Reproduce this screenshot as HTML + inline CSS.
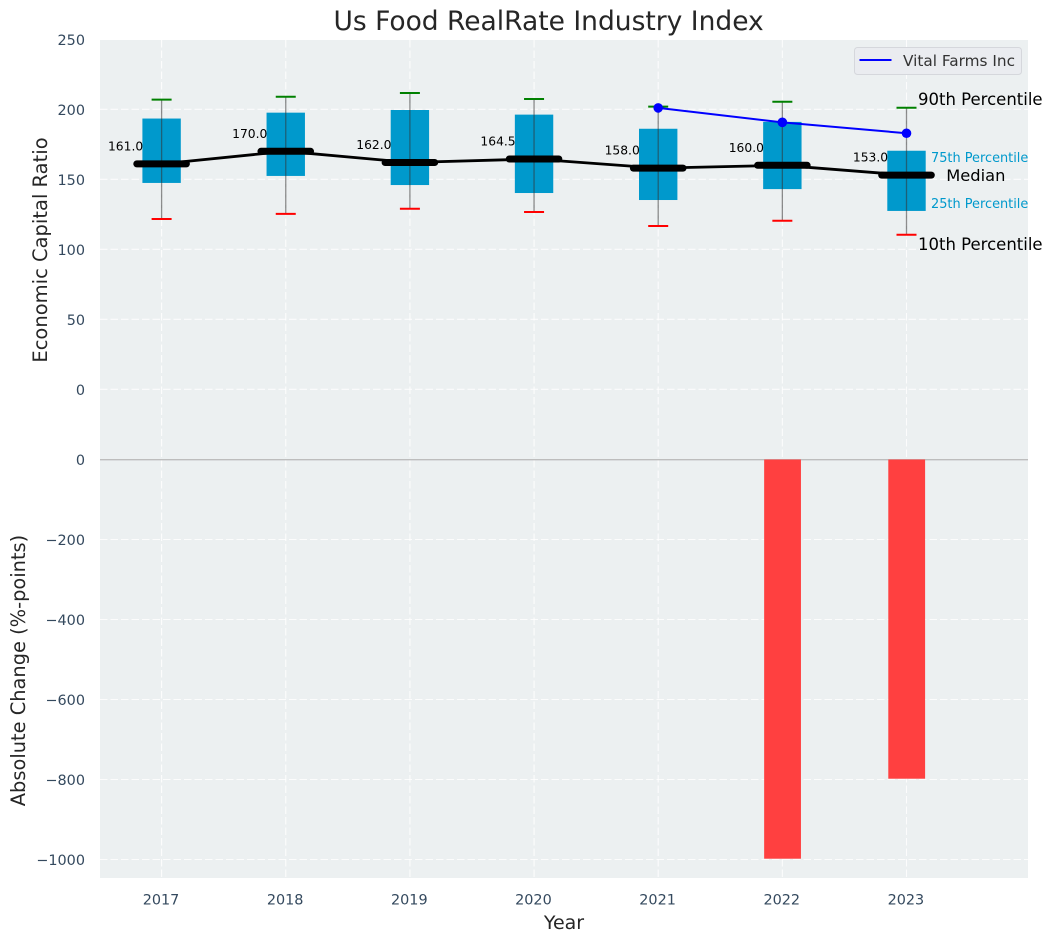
<!DOCTYPE html>
<html>
<head>
<meta charset="utf-8">
<title>Us Food RealRate Industry Index</title>
<style>
html,body{margin:0;padding:0;background:#fff;width:1053px;height:942px;overflow:hidden}
svg{display:block}
text{font-family:"DejaVu Sans","Liberation Sans",sans-serif}
</style>
</head>
<body>
<svg id="chart" xmlns="http://www.w3.org/2000/svg" width="1053" height="942" viewBox="0 0 1053 942">
  <rect x="100" y="40" width="928" height="420" fill="#ecf0f1"/>
  <rect x="100" y="460" width="928" height="418" fill="#ecf0f1"/>
  <g id="grid"></g>
  <g id="marks"></g>
  <g id="labels"></g>
  <text x="548.6" y="30" font-size="26.5" fill="#262626" text-anchor="middle">Us Food RealRate Industry Index</text>
  <text x="564" y="929" font-size="19" fill="#262626" text-anchor="middle">Year</text>
  <text transform="translate(47,250) rotate(-90)" font-size="19.5" fill="#262626" text-anchor="middle">Economic Capital Ratio</text>
  <text transform="translate(25,670.5) rotate(-90)" font-size="19.4" fill="#262626" text-anchor="middle">Absolute Change (%-points)</text>
  <g>
    <rect x="854.5" y="47.5" width="167" height="27" rx="3" fill="#eaecf0" stroke="#d5d7dc" stroke-width="1"/>
    <line x1="859.5" x2="891.5" y1="60" y2="60" stroke="#0000ff" stroke-width="2"/>
    <text x="903" y="66" font-size="15.3" fill="#333">Vital Farms Inc</text>
  </g>
</svg>
<script>
const years = [2017, 2018, 2019, 2020, 2021, 2022, 2023];
const medians = [161, 170, 162, 164.5, 158, 160, 153];
const q1Values = [147.4, 152.4, 145.9, 140.2, 135.2, 143, 127.4];
const q3Values = [193.4, 197.6, 199.5, 196.2, 186.1, 191, 170.4];
const p10Values = [121.6, 125.3, 129, 126.6, 116.6, 120.4, 110.4];
const p90Values = [206.9, 209, 211.6, 207.4, 201.9, 205.4, 201.1];
const companyYears = [2021, 2022, 2023];
const companyValues = [201, 190.7, 182.9];
const changeYears = [2022, 2023];
const changeValues = [-998, -798];
const topTicks = [0, 50, 100, 150, 200, 250];
const bottomTicks = [0, -200, -400, -600, -800, -1000];

const X0 = 161.6, XSTEP = 124.15;
function xScale(v){ return X0 + (v - 2017) * XSTEP; }
function yTop(v){ return 389.3 - v * 1.4; }
function yBottom(v){ return 459.5 - v * 0.4; }

const NS = 'http://www.w3.org/2000/svg';
const grid = document.getElementById('grid');
const marks = document.getElementById('marks');
const labels = document.getElementById('labels');

function make(tag, parent, attrs, content){
  const n = document.createElementNS(NS, tag);
  for (const k in attrs) n.setAttribute(k, attrs[k]);
  if (content !== undefined) n.textContent = content;
  parent.appendChild(n);
  return n;
}
function fmtTick(v){ return v < 0 ? '\u2212' + Math.abs(v) : String(v); }

const gridStyle = {stroke:'#ffffff', 'stroke-width':1.1, 'stroke-dasharray':'7.5 3', opacity:0.85};

topTicks.forEach(function(t){
  let el = make('line', grid, Object.assign({x1:100, x2:1028, y1:yTop(t), y2:yTop(t)}, gridStyle));
  
  
  el = make('text', labels, {x:85, y:yTop(t)+5.7, 'font-size':14.4, fill:'#34495e', 'text-anchor':'end'}, fmtTick(t));
  
  
});
bottomTicks.forEach(function(t){
  let el = make('line', grid, Object.assign({x1:100, x2:1028, y1:yBottom(t), y2:yBottom(t)}, gridStyle));
  
  
  el = make('text', labels, {x:85, y:yBottom(t)+5.5, 'font-size':14.4, fill:'#34495e', 'text-anchor':'end'}, fmtTick(t));
  
  
});
years.forEach(function(yr){
  let el = make('line', grid, Object.assign({x1:xScale(yr), x2:xScale(yr), y1:40, y2:878}, gridStyle));
  
  
  el = make('text', labels, {x:xScale(yr)-0.6, y:904.5, 'font-size':14.4, fill:'#34495e', 'text-anchor':'middle'}, String(yr));
  
  
});

// zero line of the lower panel
let zeroLine = make('line', marks, {x1:100, x2:1028, y1:yBottom(0)+0.2, y2:yBottom(0)+0.2, stroke:'#bdbdbd', 'stroke-width':1.4});



// change bars
changeYears.forEach(function(yr, i){
  const top = yBottom(0), bottom = yBottom(changeValues[i]);
  const el = make('rect', marks, {x:xScale(yr)-18.2, y:top, width:36.8, height:bottom-top, fill:'#ff4040'});
  
  
});

// boxes
years.forEach(function(yr, i){
  const el = make('rect', marks, {x:xScale(yr)-19.2, y:yTop(q3Values[i]), width:38.4, height:yTop(q1Values[i])-yTop(q3Values[i]), fill:'#0099cc'});
  
  
});

// median connecting line
let medianPath = make('polyline', marks, {
  points: years.map(function(yr, i){ return xScale(yr) + ',' + yTop(medians[i]); }).join(' '),
  fill:'none', stroke:'#000', 'stroke-width':2.8
});



// whiskers, caps, median bars, median labels
years.forEach(function(yr, i){
  const cx = xScale(yr);
  let el = make('line', marks, {x1:cx, x2:cx, y1:yTop(p90Values[i]), y2:yTop(p10Values[i]), stroke:'#333', 'stroke-width':1.3, opacity:0.55});
  
  
  el = make('line', marks, {x1:cx-10, x2:cx+10, y1:yTop(p90Values[i]), y2:yTop(p90Values[i]), stroke:'#008000', 'stroke-width':2});
  
  
  el = make('line', marks, {x1:cx-10, x2:cx+10, y1:yTop(p10Values[i]), y2:yTop(p10Values[i]), stroke:'#ff0000', 'stroke-width':2});
  
  
  el = make('line', marks, {x1:cx-24.8, x2:cx+24.8, y1:yTop(medians[i]), y2:yTop(medians[i]), stroke:'#000', 'stroke-width':7, 'stroke-linecap':'round'});
  
  
  el = make('text', marks, {x:cx-18.4, y:yTop(medians[i])-13.5, 'font-size':12.3, fill:'#000', 'text-anchor':'end'}, medians[i].toFixed(1));
  
  
});

// company series
let companyLine = make('polyline', marks, {
  points: companyYears.map(function(yr, i){ return xScale(yr) + ',' + yTop(companyValues[i]); }).join(' '),
  fill:'none', stroke:'#0000ff', 'stroke-width':2
});


companyYears.forEach(function(yr, i){
  const el = make('circle', marks, {cx:xScale(yr), cy:yTop(companyValues[i]), r:4.8, fill:'#0000ff'});
  
  
});

// percentile annotations on the last year
const last = years.length - 1;
const lastX = xScale(years[last]);
let note = make('text', marks, {x:lastX+11.5, y:yTop(p90Values[last])-2.8, 'font-size':16.5, fill:'#000'}, '90th Percentile');


note = make('text', marks, {x:lastX+11.5, y:yTop(p10Values[last])+15.3, 'font-size':16.5, fill:'#000'}, '10th Percentile');


note = make('text', marks, {x:lastX+39.7, y:yTop(medians[last])+6, 'font-size':16.3, fill:'#000'}, 'Median');


note = make('text', marks, {x:lastX+24.5, y:yTop(q3Values[last])+11.5, 'font-size':12.9, fill:'#0099cc'}, '75th Percentile');


note = make('text', marks, {x:lastX+24.5, y:yTop(q1Values[last])-2.7, 'font-size':12.9, fill:'#0099cc'}, '25th Percentile');


</script>
</body>
</html>
